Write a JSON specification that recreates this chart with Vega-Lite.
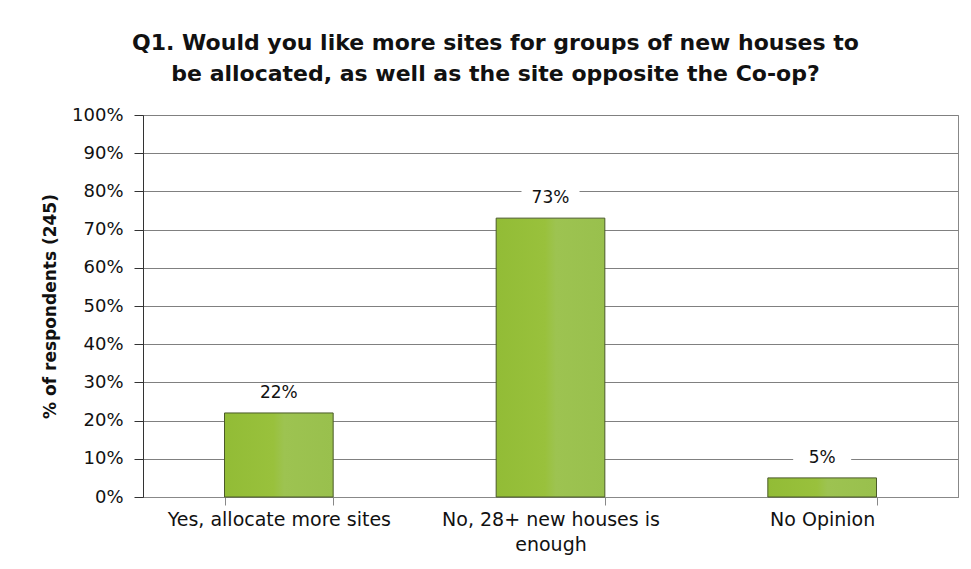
{
  "$schema": "https://vega.github.io/schema/vega-lite/v6.json",
  "autosize": {"type": "none"},
  "width": 815,
  "height": 382,
  "padding": {"left": 143, "top": 115, "right": 14, "bottom": 72},
  "background": "white",
  "config": {
    "font": "DejaVu Sans",
    "view": {"stroke": "#888888", "strokeWidth": 1},
    "axis": {"labelFont": "DejaVu Sans", "titleFont": "DejaVu Sans"}
  },
  "title": {
    "text": ["Q1. Would you like more sites for groups of new houses to", "be allocated, as well as the site opposite the Co-op?"],
    "font": "DejaVu Sans",
    "fontSize": 22,
    "fontWeight": "bold",
    "color": "#111111",
    "anchor": "middle",
    "dx": -55,
    "offset": 20,
    "lineHeight": 31
  },
  "data": {
    "values": [
      {"answer": "Yes, allocate more sites", "pct": 22},
      {"answer": "No, 28+ new houses is enough", "pct": 73},
      {"answer": "No Opinion", "pct": 5}
    ]
  },
  "encoding": {
    "x": {
      "field": "answer",
      "type": "nominal",
      "sort": null,
      "scale": {"paddingInner": 0.6, "paddingOuter": 0.3},
      "axis": {
        "title": null,
        "labelAngle": 0,
        "labelFontSize": 19,
        "labelLimit": 0,
        "labelColor": "#111111",
        "labelPadding": 5,
        "labelLineHeight": 25,
        "labelBaseline": "top",
        "tickBand": "extent",
        "tickSize": 8,
        "tickColor": "#888888",
        "domainColor": "#888888",
        "labelExpr": "datum.label == 'No, 28+ new houses is enough' ? ['No, 28+ new houses is', 'enough'] : datum.label"
      }
    },
    "y": {
      "field": "pct",
      "type": "quantitative",
      "scale": {"domain": [0, 100], "nice": false},
      "axis": {
        "title": "% of respondents (245)",
        "titleFontSize": 17,
        "titleFontWeight": "bold",
        "titleColor": "#111111",
        "titleX": -93,
        "titleY": 191,
        "titleAlign": "center",
        "titleBaseline": "middle",
        "values": [0, 10, 20, 30, 40, 50, 60, 70, 80, 90, 100],
        "labelExpr": "datum.value + '%'",
        "labelFontSize": 18,
        "labelColor": "#111111",
        "labelPadding": 11,
        "tickSize": 9,
        "tickColor": "#333333",
        "domainColor": "#333333",
        "grid": true,
        "gridColor": "#808080",
        "gridWidth": 1
      }
    }
  },
  "layer": [
    {
      "mark": {
        "type": "bar",
        "stroke": "#4a5a28",
        "strokeWidth": 1,
        "color": {
          "gradient": "linear",
          "x1": 0, "y1": 0, "x2": 1, "y2": 0,
          "stops": [
            {"offset": 0, "color": "#92bc36"},
            {"offset": 0.45, "color": "#99c13c"},
            {"offset": 0.55, "color": "#9dc351"},
            {"offset": 1, "color": "#99c04d"}
          ]
        }
      }
    },
    {
      "mark": {"type": "tick", "color": "white", "opacity": 1, "size": 58, "thickness": 18, "yOffset": -20}
    },
    {
      "mark": {"type": "text", "baseline": "middle", "dy": -20, "fontSize": 17, "color": "#111111"},
      "encoding": {"text": {"field": "label", "type": "nominal"}},
      "transform": [{"calculate": "datum.pct + '%'", "as": "label"}]
    }
  ]
}
